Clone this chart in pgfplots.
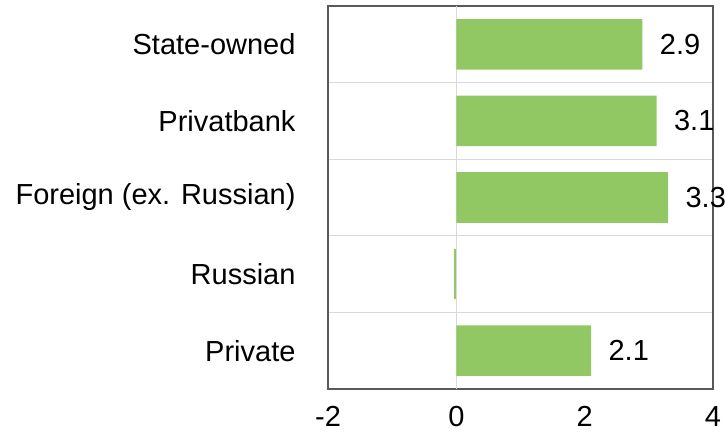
\documentclass[border=0pt]{standalone}
\usepackage{fontspec}
\setmainfont{Liberation Sans}
\usepackage{pgfplots}
\pgfplotsset{compat=1.18}
\definecolor{barg}{RGB}{146,200,100}
\definecolor{boxc}{RGB}{89,89,89}
\definecolor{gridc}{RGB}{217,217,217}
\begin{document}
\begin{tikzpicture}
\useasboundingbox (-328pt,-46pt) rectangle (397pt,389pt);
\begin{axis}[
  scale only axis, width=385pt, height=383pt,
  at={(0,0)}, anchor=south west,
  xbar, bar width=0.66, bar shift=0pt,
  xmin=-2, xmax=4, ymin=-0.5, ymax=4.5,
  xtick={-2,0,2,4}, ytick={0,1,2,3,4},
  yticklabels={Private,Russian,Foreign (ex. Russian),Privatbank,State-owned},
  minor ytick={0.5,1.5,2.5,3.5},
  yminorgrids=true,
  minor grid style={gridc, line width=1pt},
  extra x ticks={0}, extra x tick labels={},
  extra x tick style={grid=major, major grid style={gridc, line width=1pt}},
  major tick length=0pt, minor tick length=0pt,
  tick style={draw=none},
  axis line style={boxc, line width=1.5pt},
  font=\fontsize{29}{34}\selectfont,
  ticklabel style={font=\fontsize{29}{34}\selectfont},
  /pgf/number format/assume math mode=true,
  xticklabel style={yshift=-14pt},
  yticklabel style={xshift=-29pt},
  clip=false,
]
\addplot[fill=barg, draw=none, nodes near coords,
  nodes near coords style={font=\fontsize{29}{34}\selectfont, anchor=west, xshift=14pt, black},
  point meta=explicit symbolic]
  coordinates {(2.1,0) [2.1] (3.3,2) [3.3] (3.12,3) [3.1] (2.9,4) [2.9]};
\addplot[fill=barg, draw=none] coordinates {(-0.03,1)};
\end{axis}
\end{tikzpicture}
\end{document}
